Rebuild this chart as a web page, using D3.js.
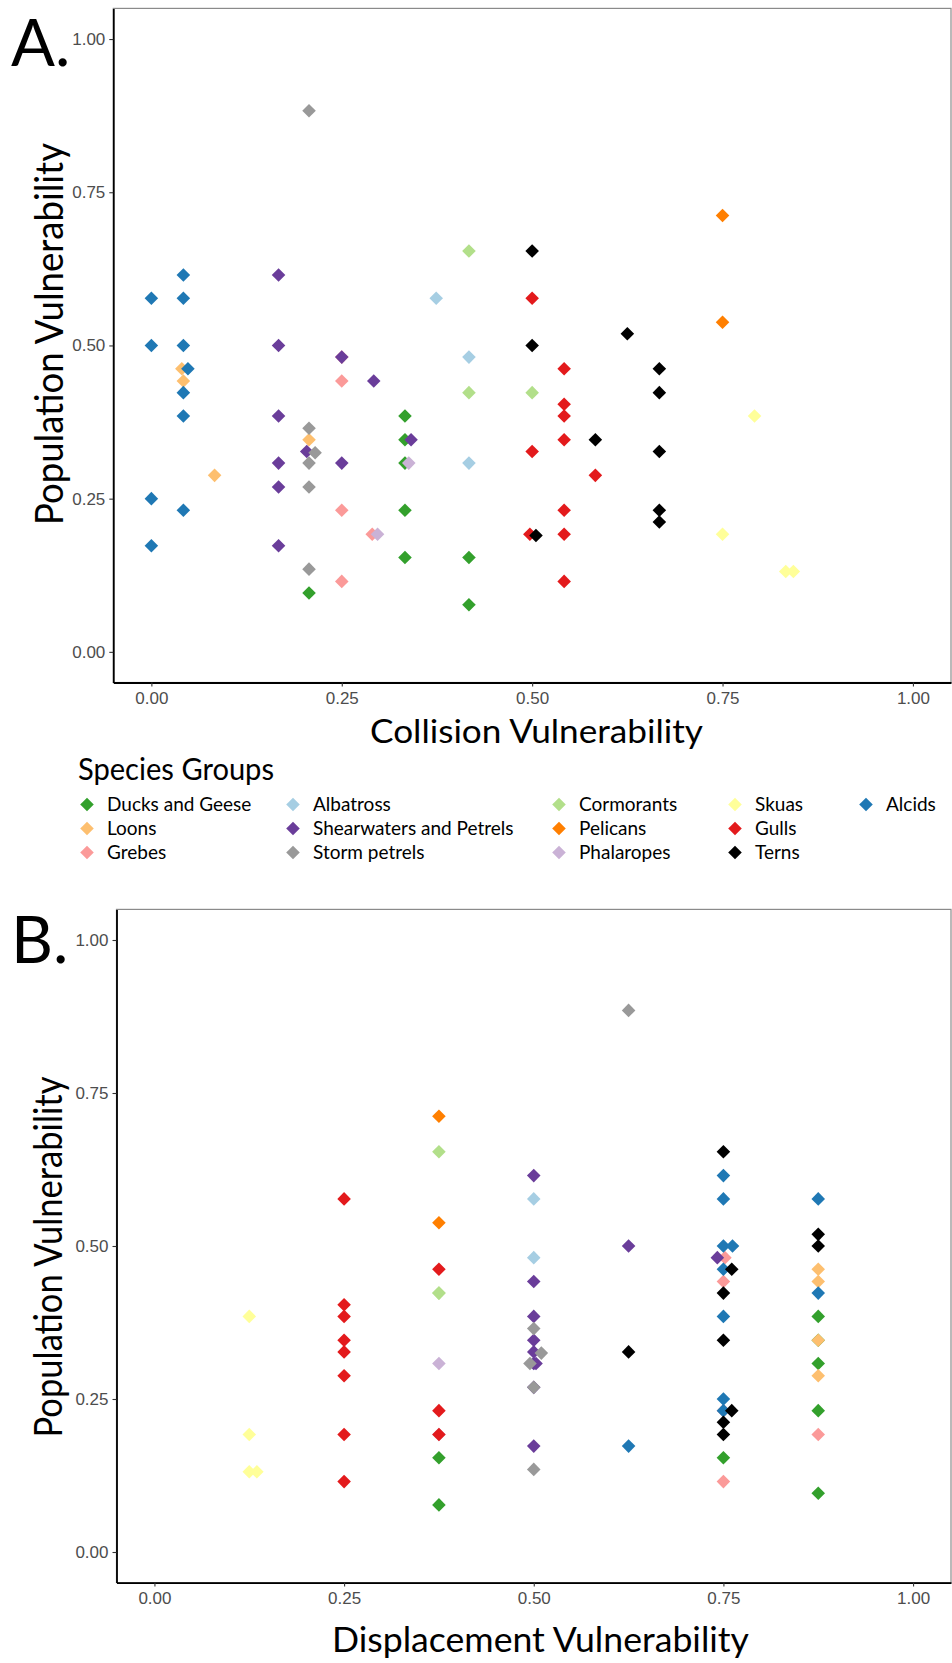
<!DOCTYPE html>
<html>
<head>
<meta charset="utf-8">
<script src="https://cdn.jsdelivr.net/npm/d3@7"></script>
<style>
  body { margin: 0; background: #fff; }
  svg { display: block; }
</style>
</head>
<body>
<svg id="chart"></svg>
<script>
const width = 952;
const height = 1663;

const groups = [
    'Ducks and Geese', 'Loons', 'Grebes', 'Albatross', 'Shearwaters and Petrels',
    'Storm petrels', 'Cormorants', 'Pelicans', 'Phalaropes', 'Skuas', 'Gulls', 'Terns', 'Alcids'
];
const groupColors = [
    '#33a02c', '#fdbf6f', '#fb9a99', '#a6cee3', '#6a3d9a',
    '#999999', '#b2df8a', '#ff7f00', '#cab2d6', '#ffff99', '#e31a1c', '#000000', '#1f78b4'
];
const tickValues = [0, 0.25, 0.5, 0.75, 1];

// [group, vulnerability on x, population vulnerability]
const collisionPoints = [
    ['Ducks and Geese', 0.207, 0.096], ['Ducks and Geese', 0.333, 0.385], ['Ducks and Geese', 0.333, 0.346],
    ['Ducks and Geese', 0.333, 0.308], ['Ducks and Geese', 0.333, 0.231], ['Ducks and Geese', 0.333, 0.154],
    ['Ducks and Geese', 0.417, 0.154], ['Ducks and Geese', 0.417, 0.077],
    ['Loons', 0.040, 0.462], ['Loons', 0.042, 0.442], ['Loons', 0.207, 0.346], ['Loons', 0.083, 0.288],
    ['Grebes', 0.25, 0.481], ['Grebes', 0.25, 0.442], ['Grebes', 0.25, 0.231], ['Grebes', 0.290, 0.192], ['Grebes', 0.25, 0.115],
    ['Albatross', 0.374, 0.577], ['Albatross', 0.417, 0.481], ['Albatross', 0.417, 0.308],
    ['Shearwaters and Petrels', 0.167, 0.615], ['Shearwaters and Petrels', 0.167, 0.500], ['Shearwaters and Petrels', 0.25, 0.481],
    ['Shearwaters and Petrels', 0.292, 0.442], ['Shearwaters and Petrels', 0.167, 0.385], ['Shearwaters and Petrels', 0.341, 0.346],
    ['Shearwaters and Petrels', 0.204, 0.327], ['Shearwaters and Petrels', 0.167, 0.308], ['Shearwaters and Petrels', 0.25, 0.308],
    ['Shearwaters and Petrels', 0.167, 0.269], ['Shearwaters and Petrels', 0.167, 0.173],
    ['Storm petrels', 0.207, 0.883], ['Storm petrels', 0.207, 0.365], ['Storm petrels', 0.215, 0.325],
    ['Storm petrels', 0.207, 0.308], ['Storm petrels', 0.207, 0.269], ['Storm petrels', 0.207, 0.135],
    ['Cormorants', 0.417, 0.654], ['Cormorants', 0.417, 0.423], ['Cormorants', 0.5, 0.423],
    ['Pelicans', 0.75, 0.712], ['Pelicans', 0.75, 0.538],
    ['Phalaropes', 0.297, 0.192], ['Phalaropes', 0.338, 0.308],
    ['Skuas', 0.792, 0.385], ['Skuas', 0.75, 0.192], ['Skuas', 0.833, 0.131], ['Skuas', 0.843, 0.131],
    ['Gulls', 0.5, 0.577], ['Gulls', 0.542, 0.462], ['Gulls', 0.542, 0.404], ['Gulls', 0.542, 0.385],
    ['Gulls', 0.542, 0.346], ['Gulls', 0.5, 0.327], ['Gulls', 0.583, 0.288], ['Gulls', 0.542, 0.231],
    ['Gulls', 0.497, 0.192], ['Gulls', 0.542, 0.192], ['Gulls', 0.542, 0.115],
    ['Terns', 0.5, 0.654], ['Terns', 0.5, 0.5], ['Terns', 0.625, 0.519], ['Terns', 0.583, 0.346],
    ['Terns', 0.505, 0.190], ['Terns', 0.667, 0.462], ['Terns', 0.667, 0.423], ['Terns', 0.667, 0.327],
    ['Terns', 0.667, 0.231], ['Terns', 0.667, 0.212],
    ['Alcids', 0.042, 0.615], ['Alcids', 0, 0.577], ['Alcids', 0.042, 0.577], ['Alcids', 0, 0.5],
    ['Alcids', 0.042, 0.5], ['Alcids', 0.048, 0.462], ['Alcids', 0.042, 0.423], ['Alcids', 0.042, 0.385],
    ['Alcids', 0, 0.25], ['Alcids', 0.042, 0.231], ['Alcids', 0, 0.173]
];

const displacementPoints = [
    ['Ducks and Geese', 0.75, 0.154], ['Ducks and Geese', 0.875, 0.385], ['Ducks and Geese', 0.875, 0.346],
    ['Ducks and Geese', 0.875, 0.308], ['Ducks and Geese', 0.875, 0.231], ['Ducks and Geese', 0.875, 0.096],
    ['Ducks and Geese', 0.375, 0.154], ['Ducks and Geese', 0.375, 0.077],
    ['Loons', 0.875, 0.462], ['Loons', 0.875, 0.442], ['Loons', 0.875, 0.346], ['Loons', 0.875, 0.288],
    ['Grebes', 0.752, 0.481], ['Grebes', 0.75, 0.442], ['Grebes', 0.75, 0.231], ['Grebes', 0.875, 0.192], ['Grebes', 0.75, 0.115],
    ['Albatross', 0.5, 0.577], ['Albatross', 0.5, 0.481], ['Albatross', 0.5, 0.308],
    ['Shearwaters and Petrels', 0.5, 0.615], ['Shearwaters and Petrels', 0.625, 0.5], ['Shearwaters and Petrels', 0.742, 0.481],
    ['Shearwaters and Petrels', 0.5, 0.442], ['Shearwaters and Petrels', 0.5, 0.385], ['Shearwaters and Petrels', 0.5, 0.346],
    ['Shearwaters and Petrels', 0.5, 0.327], ['Shearwaters and Petrels', 0.5, 0.308], ['Shearwaters and Petrels', 0.503, 0.308],
    ['Shearwaters and Petrels', 0.5, 0.269], ['Shearwaters and Petrels', 0.5, 0.173],
    ['Storm petrels', 0.625, 0.885], ['Storm petrels', 0.5, 0.365], ['Storm petrels', 0.51, 0.325],
    ['Storm petrels', 0.495, 0.308], ['Storm petrels', 0.5, 0.269], ['Storm petrels', 0.5, 0.135],
    ['Cormorants', 0.375, 0.654], ['Cormorants', 0.375, 0.423], ['Cormorants', 0.375, 0.423],
    ['Pelicans', 0.375, 0.712], ['Pelicans', 0.375, 0.538],
    ['Phalaropes', 0.375, 0.308], ['Phalaropes', 0.375, 0.192],
    ['Skuas', 0.125, 0.385], ['Skuas', 0.125, 0.192], ['Skuas', 0.125, 0.131], ['Skuas', 0.135, 0.131],
    ['Gulls', 0.25, 0.577], ['Gulls', 0.25, 0.404], ['Gulls', 0.25, 0.385], ['Gulls', 0.25, 0.346],
    ['Gulls', 0.25, 0.327], ['Gulls', 0.25, 0.288], ['Gulls', 0.25, 0.192], ['Gulls', 0.25, 0.115],
    ['Gulls', 0.375, 0.462], ['Gulls', 0.375, 0.231], ['Gulls', 0.375, 0.192],
    ['Alcids', 0.75, 0.615], ['Alcids', 0.75, 0.577], ['Alcids', 0.875, 0.577], ['Alcids', 0.75, 0.5],
    ['Alcids', 0.762, 0.5], ['Alcids', 0.75, 0.462], ['Alcids', 0.875, 0.423], ['Alcids', 0.75, 0.385],
    ['Alcids', 0.75, 0.25], ['Alcids', 0.75, 0.231], ['Alcids', 0.625, 0.173],
    ['Terns', 0.75, 0.654], ['Terns', 0.875, 0.519], ['Terns', 0.875, 0.5], ['Terns', 0.761, 0.462],
    ['Terns', 0.75, 0.423], ['Terns', 0.75, 0.346], ['Terns', 0.625, 0.327], ['Terns', 0.761, 0.231],
    ['Terns', 0.75, 0.212], ['Terns', 0.75, 0.192]
];

const titleFont = 'Lato, "Open Sans", sans-serif';
const tickFont = '"Liberation Sans", Arial, sans-serif';

const color = d3.scaleOrdinal().domain(groups).range(groupColors);
const diamond = d3.symbol(d3.symbolSquare, 92);

const svg = d3.select('#chart')
    .attr('width', width)
    .attr('height', height)
    .attr('viewBox', `0 0 ${width} ${height}`);

const panels = [
    {
        label: 'A.', labelY: 66, points: collisionPoints, xTitle: 'Collision Vulnerability',
        left: 113.3, right: 951, top: 8.4, bottom: 682.5,
        xTitleX: 370, xTitleY: 743, xTitleSize: 32, xTitleLen: 333,
        yTitleX: 63, yTitleCy: 334, yTitleSize: 39, yTitleLen: 382
    },
    {
        label: 'B.', labelY: 963, points: displacementPoints, xTitle: 'Displacement Vulnerability',
        left: 116.5, right: 951, top: 909.4, bottom: 1582.6,
        xTitleX: 332, xTitleY: 1652, xTitleSize: 34, xTitleLen: 417,
        yTitleX: 62, yTitleCy: 1257, yTitleSize: 38, yTitleLen: 361
    }
];

const drawPanel = p => {
    const x = d3.scaleLinear().domain([-0.05, 1.05]).range([p.left, p.right]);
    const y = d3.scaleLinear().domain([-0.05, 1.05]).range([p.bottom, p.top]);

    svg.append('text')
        .attr('x', 11)
        .attr('y', p.labelY)
        .style('font-family', titleFont)
        .style('font-size', '65px')
        .text(p.label);

    // panel border (top / right in grey)
    svg.append('rect')
        .attr('x', p.left)
        .attr('y', p.top)
        .attr('width', p.right - p.left)
        .attr('height', p.bottom - p.top)
        .attr('fill', 'none')
        .attr('stroke', '#8a8a8a')
        .attr('stroke-width', 1.2);

    const xAxis = svg.append('g')
        .attr('transform', `translate(0,${p.bottom})`)
        .call(d3.axisBottom(x).tickValues(tickValues).tickFormat(d3.format('.2f'))
            .tickSize(4).tickSizeOuter(0).tickPadding(5));

    const yAxis = svg.append('g')
        .attr('transform', `translate(${p.left},0)`)
        .call(d3.axisLeft(y).tickValues(tickValues).tickFormat(d3.format('.2f'))
            .tickSize(4).tickSizeOuter(0).tickPadding(4));

    [xAxis, yAxis].forEach(a => {
        a.select('.domain').attr('stroke', '#000').attr('stroke-width', 1.8);
        a.selectAll('.tick line').attr('stroke', '#333').attr('stroke-width', 1.1);
        a.selectAll('.tick text')
            .attr('fill', '#4d4d4d')
            .style('font-family', tickFont)
            .style('font-size', '17px');
    });

    svg.append('g')
        .selectAll('path')
        .data(p.points)
        .enter().append('path')
        .attr('d', diamond)
        .attr('transform', d => `translate(${x(d[1])},${y(d[2])}) rotate(45)`)
        .attr('fill', d => color(d[0]));

    svg.append('text')
        .attr('x', p.xTitleX)
        .attr('y', p.xTitleY)
        .attr('textLength', p.xTitleLen)
        .attr('lengthAdjust', 'spacingAndGlyphs')
        .style('font-family', titleFont)
        .style('font-size', p.xTitleSize + 'px')
        .text(p.xTitle);

    svg.append('text')
        .attr('transform', `translate(${p.yTitleX},${p.yTitleCy + p.yTitleLen / 2}) rotate(-90)`)
        .attr('textLength', p.yTitleLen)
        .attr('lengthAdjust', 'spacingAndGlyphs')
        .style('font-family', titleFont)
        .style('font-size', p.yTitleSize + 'px')
        .text('Population Vulnerability');
};

const drawLegend = () => {
    const colX = [87, 293, 559, 735, 866];
    const rowY = [804.5, 828.5, 852.5];
    const g = svg.append('g');

    g.append('text')
        .attr('x', 78)
        .attr('y', 780)
        .attr('textLength', 196)
        .attr('lengthAdjust', 'spacingAndGlyphs')
        .style('font-family', titleFont)
        .style('font-size', '31px')
        .text('Species Groups');

    const item = g.selectAll('.key')
        .data(groups)
        .enter().append('g')
        .attr('class', 'key')
        .attr('transform', (d, i) => `translate(${colX[Math.floor(i / 3)]},${rowY[i % 3]})`);

    item.append('path')
        .attr('d', diamond)
        .attr('transform', 'rotate(45)')
        .attr('fill', d => color(d));

    item.append('text')
        .attr('x', 20)
        .attr('y', 6.7)
        .style('font-family', titleFont)
        .style('font-size', '19px')
        .text(d => d);
};

document.addEventListener('DOMContentLoaded', () => {
    panels.forEach(drawPanel);
    drawLegend();
});
</script>
</body>
</html>
